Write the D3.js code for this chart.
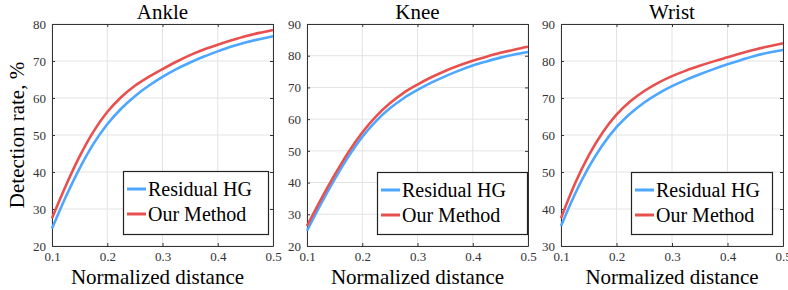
<!DOCTYPE html>
<html><head><meta charset="utf-8">
<script src="https://cdn.jsdelivr.net/npm/d3@7"></script>
<style>body{margin:0;background:#fff}svg{display:block} text{font-family:Liberation Serif, Times New Roman, Times, serif;}</style>
</head><body>
<script>
const xs = [0.1,0.125,0.15,0.175,0.2,0.225,0.25,0.275,0.3,0.325,0.35,0.375,0.4,0.425,0.45,0.475,0.5];
const ankleResidual = [24.7,33.3,41.0,47.6,52.9,57.1,60.5,63.3,65.7,67.8,69.6,71.2,72.6,73.9,75.0,75.9,76.7];
const ankleOurs     = [27.5,36.3,44.2,50.9,56.2,60.2,63.3,65.7,67.8,69.8,71.6,73.1,74.4,75.6,76.7,77.6,78.4];
const kneeResidual  = [24.8,33.2,41.0,48.2,54.4,59.4,63.4,66.6,69.2,71.5,73.5,75.3,76.9,78.2,79.4,80.4,81.2];
const kneeOurs      = [26.3,34.6,42.4,49.6,55.8,60.9,65.0,68.3,70.9,73.2,75.2,76.9,78.4,79.7,80.9,81.9,82.8];
const wristResidual = [35.4,44.0,51.3,57.3,62.1,65.8,68.8,71.2,73.2,74.9,76.4,77.8,79.1,80.3,81.4,82.3,83.0];
const wristOurs     = [37.5,46.8,54.5,60.7,65.5,69.1,71.9,74.1,75.9,77.4,78.7,79.9,81.0,82.1,83.1,84.0,84.8];
const titles = ["Ankle","Knee","Wrist"];
const yDomains = [[20,80],[20,90],[30,90]];
const xTicks = [0.1,0.2,0.3,0.4,0.5];
const seriesNames = ["Residual HG","Our Method"];
const colors = ["#4da6ff","#e8504f"];

const panels = [
  {title:titles[0], yd:yDomains[0], data:[ankleResidual, ankleOurs], x0:52, x1:273, leg:[123,171,268,234]},
  {title:titles[1], yd:yDomains[1], data:[kneeResidual, kneeOurs], x0:307, x1:528, leg:[377,172,527,234]},
  {title:titles[2], yd:yDomains[2], data:[wristResidual, wristOurs], x0:561, x1:783, leg:[631,172,772,234]}
];
const yTop = 24, yBot = 246;
const font = "Liberation Serif, Times New Roman, Times, serif";

const svg = d3.select("body").append("svg").attr("width",788).attr("height",290);

svg.append("text").attr("transform","translate(19,135) rotate(-90)")
  .attr("text-anchor","middle").attr("font-family",font).attr("font-size",21)
  .attr("dominant-baseline","middle").attr("fill","#000").text("Detection rate, %");

panels.forEach(p => {
  const x = d3.scaleLinear().domain([0.1,0.5]).range([p.x0,p.x1]);
  const y = d3.scaleLinear().domain(p.yd).range([yBot,yTop]);
  const yt = d3.range(p.yd[0], p.yd[1]+0.1, 10);
  const g = svg.append("g");
  g.selectAll(".gx").data(xTicks).join("line")
    .attr("x1",d=>x(d)).attr("x2",d=>x(d)).attr("y1",yTop).attr("y2",yBot)
    .attr("stroke","#e3e3e3").attr("stroke-width",1);
  g.selectAll(".gy").data(yt).join("line")
    .attr("x1",p.x0).attr("x2",p.x1).attr("y1",d=>y(d)).attr("y2",d=>y(d))
    .attr("stroke","#e3e3e3").attr("stroke-width",1);
  const ax = g.append("g").attr("transform",`translate(0,${yBot})`)
    .call(d3.axisBottom(x).tickValues(xTicks).tickSizeInner(-3).tickSizeOuter(0).tickPadding(6).tickFormat(d3.format(".1f")));
  const ay = g.append("g").attr("transform",`translate(${p.x0},0)`)
    .call(d3.axisLeft(y).tickValues(yt).tickSizeInner(-3).tickSizeOuter(0).tickPadding(6).tickFormat(d3.format("d")));
  const axT = g.append("g").attr("transform",`translate(0,${yTop})`)
    .call(d3.axisTop(x).tickValues(xTicks).tickSizeInner(-3).tickSizeOuter(0).tickFormat(""));
  const ayR = g.append("g").attr("transform",`translate(${p.x1},0)`)
    .call(d3.axisRight(y).tickValues(yt).tickSizeInner(-3).tickSizeOuter(0).tickFormat(""));
  [ax,ay,axT,ayR].forEach(a=>{
    a.attr("font-family",font).attr("font-size",13);
    a.selectAll("path").attr("stroke","#333").attr("stroke-width",1);
    a.selectAll("line").attr("stroke","#333");
    a.selectAll("text").attr("fill","#333");
  });
  const line = d3.line().x((d,i)=>x(xs[i])).y(d=>y(d)).curve(d3.curveMonotoneX);
  p.data.forEach((s,k)=>{
    g.append("path").datum(s).attr("d",line).attr("fill","none")
      .attr("stroke",colors[k]).attr("stroke-width",2.6);
  });
  g.append("text").attr("x",(p.x0+p.x1)/2).attr("y",19).attr("text-anchor","middle")
    .attr("font-family",font).attr("font-size",21).attr("fill","#000").text(p.title);
  g.append("text").attr("x",(p.x0+p.x1)/2+(p.x0===52?-5:0)).attr("y",284).attr("text-anchor","middle")
    .attr("font-family",font).attr("font-size",21).attr("fill","#000").text("Normalized distance");
  const [lx0,ly0,lx1,ly1] = p.leg;
  g.append("rect").attr("x",lx0+0.5).attr("y",ly0+0.5).attr("width",lx1-lx0).attr("height",ly1-ly0)
    .attr("fill","#fff").attr("stroke","#222").attr("stroke-width",1.2);
  seriesNames.forEach((n,k)=>{
    const cy = ly0 + 18 + k*25;
    g.append("line").attr("x1",lx0+4).attr("x2",lx0+23).attr("y1",cy).attr("y2",cy)
      .attr("stroke",colors[k]).attr("stroke-width",3);
    g.append("text").attr("x",lx0+25).attr("y",cy+6.5).attr("font-family",font)
      .attr("font-size",20).attr("fill","#000").text(n);
  });
});
</script>
</body></html>
